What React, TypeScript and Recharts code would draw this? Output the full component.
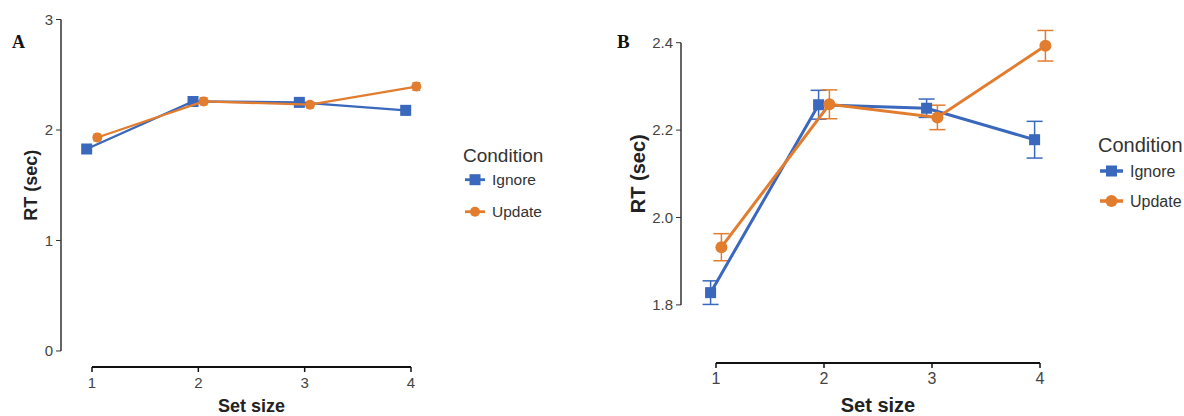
import React from 'react'
import { ScatterChart, Scatter, XAxis, YAxis, ErrorBar, ReferenceLine, Legend } from 'recharts'

// reaction time per set size (mean, standard error)
const SET_SIZES = [1, 2, 3, 4]
const IGNORE_RT = [1.828, 2.258, 2.25, 2.178]
const IGNORE_SE = [0.027, 0.033, 0.021, 0.042]
const UPDATE_RT = [1.932, 2.259, 2.229, 2.393]
const UPDATE_SE = [0.031, 0.033, 0.028, 0.035]

const Y_TICKS_A = [0, 1, 2, 3]
const Y_TICKS_B = [1.8, 2.0, 2.2, 2.4]

const BLUE = '#3A68BC'
const ORANGE = '#E27D30'
const SANS = '"Liberation Sans", Arial, sans-serif'
const SERIF = '"Liberation Serif", "Times New Roman", serif'

// horizontal nudge so the two conditions don't overlap
const DODGE = 0.05

const SERIES = [
  { name: 'Ignore', color: BLUE, kind: 'square', rt: IGNORE_RT, se: IGNORE_SE, dodge: -DODGE },
  { name: 'Update', color: ORANGE, kind: 'circle', rt: UPDATE_RT, se: UPDATE_SE, dodge: DODGE },
]

const buildRows = (rt: number[], se: number[], dodge: number) =>
  SET_SIZES.map((s, i) => ({ x: s + dodge, y: rt[i], err: se[i] }))

interface PanelStyle {
  letter: string
  letterSize: number
  letterPos: { left: number; top: number }
  left: number
  width: number
  top: number
  right: number
  yWidth: number
  xHeight: number
  xDomain: [number, number]
  yDomain: [number, number]
  yTicks: number[]
  yFormat: (v: number) => string
  tickSize: number
  xTickSize: number
  titleSize: number
  yTitleX: number
  xTitleDy: number
  lineWidth: number
  square: number
  circle: number
  cap: number
  capStroke: number
  legend: { left: number; top: number; titleSize: number; itemSize: number; rowGap: number; keyLen: number }
}

const PANEL_A: PanelStyle = {
  letter: 'A', letterSize: 18, letterPos: { left: 12, top: 33 },
  left: 0, width: 450, top: 19.5, right: 8, yWidth: 61, xHeight: 49,
  xDomain: [0.7085, 4.2915], yDomain: [-0.145, 3], yTicks: Y_TICKS_A,
  yFormat: (v) => String(v), tickSize: 15, xTickSize: 15,
  titleSize: 18, yTitleX: 31, xTitleDy: 45,
  lineWidth: 2.3, square: 11, circle: 10, cap: 4, capStroke: 1.2,
  legend: { left: 455, top: 130, titleSize: 19, itemSize: 15.5, rowGap: 32, keyLen: 20 },
}

// top of the value range sits a little above the last tick so the highest marker isn't clipped
const PANEL_B: PanelStyle = {
  letter: 'B', letterSize: 19, letterPos: { left: 617, top: 32 },
  left: 590, width: 594, top: 20.84, right: 109, yWidth: 91, xHeight: 53,
  xDomain: [0.676, 4.324], yDomain: [1.667, 2.45], yTicks: Y_TICKS_B,
  yFormat: (v) => v.toFixed(1), tickSize: 15, xTickSize: 16,
  titleSize: 20, yTitleX: 48, xTitleDy: 49,
  lineWidth: 3, square: 11, circle: 12, cap: 8, capStroke: 1.5,
  legend: { left: 500, top: 120, titleSize: 20, itemSize: 16, rowGap: 30, keyLen: 23 },
}

const marker = (kind: string, size: number, color: string) => (props: any) => {
  const { cx, cy } = props
  if (cx == null || cy == null) return <g />
  if (kind === 'square') {
    return <rect x={cx - size / 2} y={cy - size / 2} width={size} height={size} fill={color} />
  }
  return <circle cx={cx} cy={cy} r={size / 2} fill={color} />
}

function LegendBox({ p }: { p: PanelStyle }) {
  const L = p.legend
  const firstRow = 25 + L.titleSize * 1.3
  return (
    <svg width={130} height={110} style={{ overflow: 'visible', display: 'block' }}>
      <text x={8} y={25} fontFamily={SANS} fontSize={L.titleSize} fill="#333" dominantBaseline="central">
        Condition
      </text>
      {SERIES.map((s, i) => {
        const cy = firstRow + i * L.rowGap
        const kx = 10 + L.keyLen / 2
        return (
          <g key={s.name}>
            <line x1={10} x2={10 + L.keyLen} y1={cy} y2={cy} stroke={s.color} strokeWidth={p.lineWidth + 0.5} />
            {s.kind === 'square'
              ? <rect x={kx - p.square / 2} y={cy - p.square / 2} width={p.square} height={p.square} fill={s.color} />
              : <circle cx={kx} cy={cy} r={p.circle / 2} fill={s.color} />}
            <text x={17 + L.keyLen} y={cy} fontFamily={SANS} fontSize={L.itemSize} fill="#333" dominantBaseline="central">
              {s.name}
            </text>
          </g>
        )
      })}
    </svg>
  )
}

function Panel({ p }: { p: PanelStyle }) {
  const [yLo, yHi] = p.yDomain
  const tickLo = p.yTicks[0]
  const tickHi = p.yTicks[p.yTicks.length - 1]
  const height = 416

  return (
    <>
      <div
        style={{
          position: 'absolute', left: p.letterPos.left, top: p.letterPos.top,
          fontFamily: SERIF, fontWeight: 'bold', fontSize: p.letterSize, lineHeight: `${p.letterSize}px`, color: '#111',
        }}
      >
        {p.letter}
      </div>
      <div style={{ position: 'absolute', left: p.left, top: 0 }}>
        <ScatterChart width={p.width} height={height} margin={{ top: p.top, right: p.right, bottom: 0, left: 0 }}>
          <XAxis
            type="number"
            dataKey="x"
            domain={p.xDomain}
            ticks={SET_SIZES}
            interval={0}
            allowDataOverflow
            height={p.xHeight}
            axisLine={false}
            tickLine={{ stroke: '#111', strokeWidth: 1.5 }}
            tickSize={5}
            tickMargin={5}
            tick={{ fill: '#444', fontSize: p.xTickSize, fontFamily: SANS }}
            label={(props: any) => {
              const vb = props.viewBox
              return (
                <text
                  x={vb.x + vb.width / 2}
                  y={vb.y + p.xTitleDy}
                  textAnchor="middle"
                  fontFamily={SANS}
                  fontWeight="bold"
                  fontSize={p.titleSize}
                  fill="#222"
                >
                  Set size
                </text>
              )
            }}
          />
          <YAxis
            type="number"
            dataKey="y"
            domain={p.yDomain}
            ticks={p.yTicks}
            interval={0}
            allowDataOverflow
            width={p.yWidth}
            axisLine={false}
            tickLine={{ stroke: '#333' }}
            tickSize={5}
            tickMargin={3}
            tickFormatter={p.yFormat}
            tick={{ fill: '#444', fontSize: p.tickSize, fontFamily: SANS }}
            label={(props: any) => {
              const vb = props.viewBox
              const mid = (tickLo + tickHi) / 2
              const cy = vb.y + ((yHi - mid) / (yHi - yLo)) * vb.height
              return (
                <text
                  x={p.yTitleX}
                  y={cy}
                  transform={`rotate(-90 ${p.yTitleX} ${cy})`}
                  textAnchor="middle"
                  dominantBaseline="central"
                  fontFamily={SANS}
                  fontWeight="bold"
                  fontSize={p.titleSize}
                  fill="#222"
                >
                  RT (sec)
                </text>
              )
            }}
          />
          {/* axis lines stop at the outer ticks */}
          <ReferenceLine
            segment={[{ x: p.xDomain[0], y: tickLo }, { x: p.xDomain[0], y: tickHi }]}
            stroke="#333"
            strokeWidth={1.5}
            ifOverflow="visible"
          />
          <ReferenceLine
            segment={[{ x: SET_SIZES[0], y: yLo }, { x: SET_SIZES[SET_SIZES.length - 1], y: yLo }]}
            stroke="#111"
            strokeWidth={2.2}
            ifOverflow="visible"
          />
          {SERIES.map((s) => (
            <Scatter
              key={s.name}
              name={s.name}
              data={buildRows(s.rt, s.se, s.dodge)}
              fill={s.color}
              line={{ stroke: s.color, strokeWidth: p.lineWidth }}
              lineJointType="linear"
              shape={marker(s.kind, s.kind === 'square' ? p.square : p.circle, s.color)}
              isAnimationActive={false}
            >
              <ErrorBar dataKey="err" direction="y" width={p.cap} stroke={s.color} strokeWidth={p.capStroke} />
            </Scatter>
          ))}
          <Legend
            layout="vertical"
            align="center"
            verticalAlign="middle"
            wrapperStyle={{ left: p.legend.left, top: p.legend.top, width: 130 }}
            content={() => <LegendBox p={p} />}
          />
        </ScatterChart>
      </div>
    </>
  )
}

export default function App() {
  return (
    <div style={{ position: 'absolute', left: 0, top: 0, width: 1184, height: 416, background: '#fff', overflow: 'hidden' }}>
      <Panel p={PANEL_A} />
      <Panel p={PANEL_B} />
    </div>
  )
}
